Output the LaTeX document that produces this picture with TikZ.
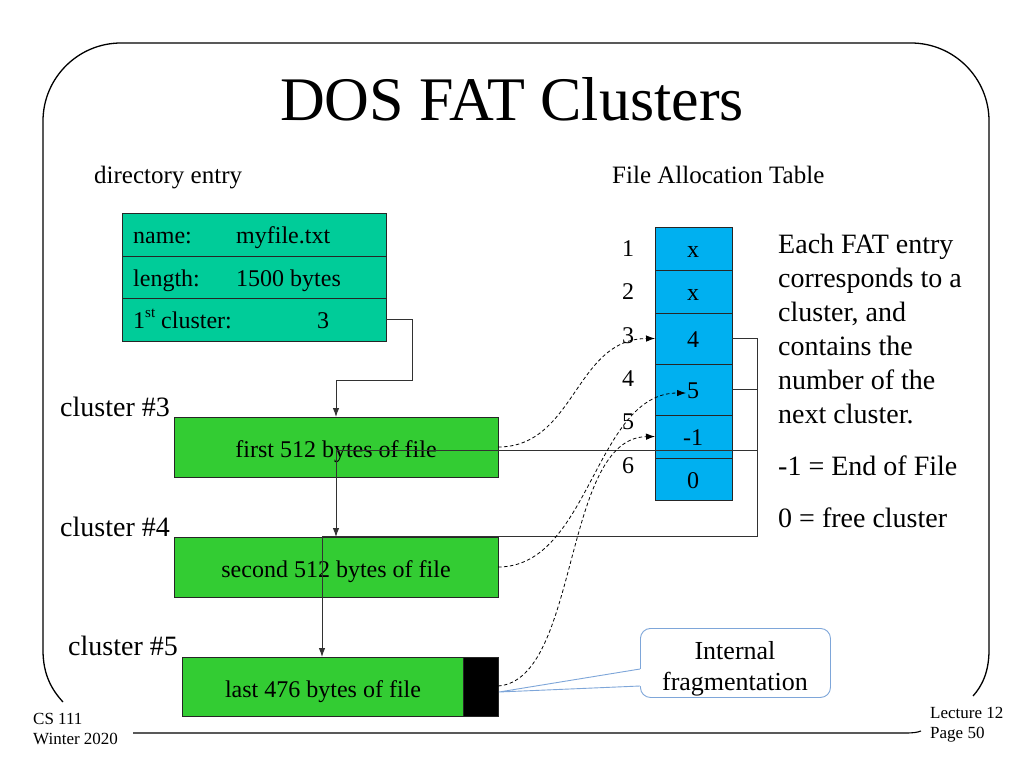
\documentclass[tikz,border=0pt]{standalone}
\usepackage{fontspec}
\setmainfont{Liberation Serif}
\usetikzlibrary{arrows.meta}
\definecolor{dirteal}{RGB}{0,204,153}
\definecolor{clgreen}{RGB}{51,204,51}
\definecolor{fatblue}{RGB}{0,176,240}
\definecolor{calloutblue}{RGB}{126,166,217}
\definecolor{conn}{RGB}{50,50,50}
\newcommand\fsz[1]{\fontsize{#1}{#1}\selectfont}
\begin{document}
\begin{tikzpicture}[x=1pt,y=-1pt,
  box/.style={draw=black!85, line width=0.8pt, anchor=north west, inner sep=0pt, outer sep=0pt},
  dirrow/.style={box, fill=dirteal, minimum width=264pt},
  fatrow/.style={box, fill=fatblue, minimum width=77pt},
  clbox/.style={box, fill=clgreen, minimum height=60pt},
  lbl/.style={anchor=base west, inner sep=0pt},
  lblc/.style={anchor=base, inner sep=0pt},
  link/.style={draw=conn, line width=0.9pt},
  arr/.style={-{Latex[length=9pt,width=6.5pt]}},
  dashlink/.style={draw=black, line width=0.8pt, dash pattern=on 3.5pt off 2.5pt},
]
\useasboundingbox (0,0) rectangle (1024,768);

% frame
\draw[line width=1.3pt] (63,702) .. controls (52,690) and (43,675) .. (43,650) -- (43,121)
  .. controls (43,78) and (78,43) .. (121,43) -- (911,43)
  .. controls (954,43) and (989,78) .. (989,121) -- (989,650)
  .. controls (989,672) and (982,686) .. (973,696);
\draw[line width=1.1pt] (133,733) -- (905,733) .. controls (913,733) and (917,732.5) .. (921,731);

% title and headers
\node[lblc, font=\fsz{62}] (title) at (512,120) {DOS FAT Clusters};
\node[lbl, font=\fsz{25}] (hdir) at (94,183) {directory entry};
\node[lbl, font=\fsz{25}] (hfat) at (612,183) {File Allocation Table};

% directory entry
\node[dirrow, minimum height=43pt] (d1) at (122,213) {};
\node[dirrow, minimum height=42pt] (d2) at (122,256) {};
\node[dirrow, minimum height=43pt] (d3) at (122,298) {};
\node[lbl, font=\fsz{24}] (d1a) at (133,243) {name:};
\node[lbl, font=\fsz{24}] (d1b) at (236,243) {myfile.txt};
\node[lbl, font=\fsz{24}] (d2a) at (133,286) {length:};
\node[lbl, font=\fsz{24}] (d2b) at (236,286) {1500 bytes};
\node[lbl, font=\fsz{24}] (d3a) at (133,328) {1\raisebox{0.45em}{\fsz{15}st} cluster:};
\node[lbl, font=\fsz{24}] (d3b) at (317,328) {3};

% FAT
\node[fatrow, minimum height=43pt] (f1) at (655,227) {};
\node[fatrow, minimum height=43pt] (f2) at (655,270) {};
\node[fatrow, minimum height=51pt] (f3) at (655,313) {};
\node[fatrow, minimum height=51pt] (f4) at (655,364) {};
\node[fatrow, minimum height=43pt] (f5) at (655,415) {};
\node[fatrow, minimum height=42pt] (f6) at (655,458) {};
\node[lblc, font=\fsz{24}] (v1) at (693,257) {x};
\node[lblc, font=\fsz{24}] (v2) at (693,300) {x};
\node[lblc, font=\fsz{24}] (v3) at (693,347) {4};
\node[lblc, font=\fsz{24}] (v4) at (693,398) {5};
\node[lblc, font=\fsz{24}] (v5) at (693,445) {-1};
\node[lblc, font=\fsz{24}] (v6) at (693,488) {0};
\node[lblc, font=\fsz{24}] (n1) at (628,256) {1};
\node[lblc, font=\fsz{24}] (n2) at (628,299) {2};
\node[lblc, font=\fsz{24}] (n3) at (628,343) {3};
\node[lblc, font=\fsz{24}] (n4) at (628,386) {4};
\node[lblc, font=\fsz{24}] (n5) at (628,429) {5};
\node[lblc, font=\fsz{24}] (n6) at (628,473) {6};

% explanation
\node[lbl, font=\fsz{28}] (e1) at (778,253) {Each FAT entry};
\node[lbl, font=\fsz{28}] (e2) at (778,287) {corresponds to a};
\node[lbl, font=\fsz{28}] (e3) at (778,321) {cluster, and};
\node[lbl, font=\fsz{28}] (e4) at (778,355) {contains the};
\node[lbl, font=\fsz{28}] (e5) at (778,389) {number of the};
\node[lbl, font=\fsz{28}] (e6) at (778,423) {next cluster.};
\node[lbl, font=\fsz{28}] (e7) at (778,475) {-1 = End of File};
\node[lbl, font=\fsz{28}] (e8) at (778,527) {0 = free cluster};

% clusters
\node[lbl, font=\fsz{28}] (l3) at (60,416) {cluster \#3};
\node[lbl, font=\fsz{28}] (l4) at (60,536) {cluster \#4};
\node[lbl, font=\fsz{28}] (l5) at (68,655) {cluster \#5};
\node[clbox, minimum width=324pt] (c3) at (174,417) {};
\node[clbox, minimum width=324pt] (c4) at (174,537) {};
\node[clbox, minimum width=316pt, minimum height=59pt] (c5) at (182,657) {};
\node[box, fill=black, minimum width=35pt, minimum height=59pt] (c5slack) at (463,657) {};
\node[lblc, font=\fsz{24}] (c3t) at (336,457) {first 512 bytes of file};
\node[lblc, font=\fsz{24}] (c4t) at (336,577) {second 512 bytes of file};
\node[lblc, font=\fsz{24}] (c5t) at (323,697) {last 476 bytes of file};

% callout
\node[draw=calloutblue, line width=0.9pt, fill=white, rounded corners=10pt, minimum width=190pt,
  minimum height=69pt, anchor=north west, inner sep=0pt] (call) at (640,628) {};
\coordinate (ptop) at (640,669);
\coordinate (pbot) at (640,686);
\coordinate (ptip) at (499,692);
\fill[white] ([xshift=1.5pt]ptop) -- (ptip) -- ([xshift=1.5pt]pbot) -- cycle;
\draw[calloutblue, line width=0.9pt] (ptop) -- (ptip) -- (pbot);
\node[lblc, font=\fsz{26}] (ci1) at (735,659) {Internal};
\node[lblc, font=\fsz{26}] (ci2) at (735,690) {fragmentation};

% solid links
\coordinate (j1) at (412,380);
\draw[link, arr] (d3.east) -- (d3.east -| j1) -- (j1) -- (j1 -| c3.north) -- (c3.north);
\coordinate (j2) at (757,450);
\draw[link, arr] (f3.east) -- (f3.east -| j2) -- (j2) -- (j2 -| c4.north) -- (c4.north);
\coordinate (j3) at (757,536);
\coordinate (c5in) at (322,657);
\draw[link, arr] (f4.east) -- (f4.east -| j3) -- (j3) -- (j3 -| c5in) -- (c5in);

% dashed links
\coordinate (f4pt) at (686,393);
\coordinate (c5out) at (498,686);
\draw[dashlink, arr] (c3.east) .. controls (575,447) and (575,339) .. (f3.west);
\draw[dashlink, arr] (c4.east) .. controls (590,567) and (595,393) .. (f4pt);
\draw[dashlink, arr] (c5out) .. controls (580,680) and (562,438) .. (f5.west);

% footer
\node[lbl, font=\fsz{17}] (ft1) at (33,724) {CS 111};
\node[lbl, font=\fsz{17}] (ft2) at (33,744) {Winter 2020};
\node[lbl, font=\fsz{17}] (ft3) at (930,718) {Lecture 12};
\node[lbl, font=\fsz{17}] (ft4) at (930,738) {Page 50};
\end{tikzpicture}
\end{document}
